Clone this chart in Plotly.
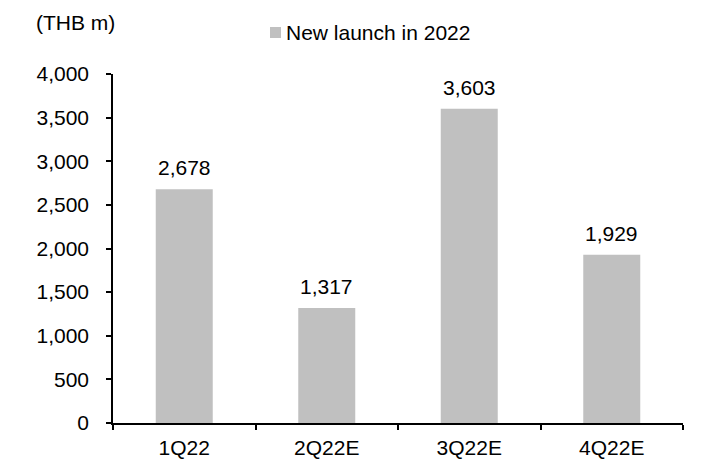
import plotly.graph_objects as go

quarters = ["1Q22", "2Q22E", "3Q22E", "4Q22E"]
new_launch = [2678, 1317, 3603, 1929]
y_ticks = [0, 500, 1000, 1500, 2000, 2500, 3000, 3500, 4000]
series_name = "New launch in 2022"
unit_label = "(THB m)"

FONT = "Liberation Sans, Arial, sans-serif"
FS = 21
BAR_COLOR = "#c0c0c0"

W, H = 728, 459
ML, MR, MT, MB = 113, 45, 74, 36
PW, PH = W - ML - MR, H - MT - MB


def px_x(x):
    return (x - ML) / PW


def px_y(y):
    return (H - MB - y) / PH


fig = go.Figure()
fig.add_trace(go.Bar(
    x=quarters,
    y=new_launch,
    name=series_name,
    marker=dict(color=BAR_COLOR, line=dict(width=0)),
    width=0.4,
    showlegend=False,
))

annotations = [
    dict(
        x=q, y=v, xref="x", yref="y",
        text=f"{v:,}", showarrow=False,
        xanchor="center", yanchor="bottom", yshift=8,
        font=dict(size=FS),
    )
    for q, v in zip(quarters, new_launch)
]
annotations.append(dict(
    text=unit_label, xref="paper", yref="paper",
    x=px_x(34), y=px_y(22), xanchor="left", yanchor="middle",
    showarrow=False, font=dict(size=FS),
))
annotations.append(dict(
    text=series_name, xref="paper", yref="paper",
    x=px_x(284), y=px_y(32), xanchor="left", yanchor="middle",
    showarrow=False, font=dict(size=FS),
))

fig.update_layout(
    width=W,
    height=H,
    margin=dict(l=ML, r=MR, t=MT, b=MB, autoexpand=False),
    plot_bgcolor="white",
    paper_bgcolor="white",
    font=dict(family=FONT, size=FS, color="black"),
    showlegend=False,
    annotations=annotations,
    shapes=[dict(
        type="rect", xref="paper", yref="paper",
        x0=px_x(270), x1=px_x(281), y0=px_y(38), y1=px_y(27),
        fillcolor=BAR_COLOR, line=dict(width=0),
    )],
)

fig.update_yaxes(
    range=[0, 4000],
    tickvals=y_ticks,
    ticktext=[f"{v:,}" for v in y_ticks],
    showgrid=False,
    zeroline=False,
    showline=True,
    linecolor="black",
    linewidth=1.5,
    ticks="outside",
    ticklen=5,
    tickwidth=1.5,
    tickcolor="black",
    ticklabelstandoff=13,
    automargin=False,
)
fig.update_xaxes(
    showgrid=False,
    showline=True,
    linecolor="black",
    linewidth=1.5,
    ticks="outside",
    tickson="boundaries",
    ticklen=5,
    tickwidth=1.5,
    tickcolor="black",
    ticklabelstandoff=5,
    automargin=False,
)

fig.write_html("out.html")
